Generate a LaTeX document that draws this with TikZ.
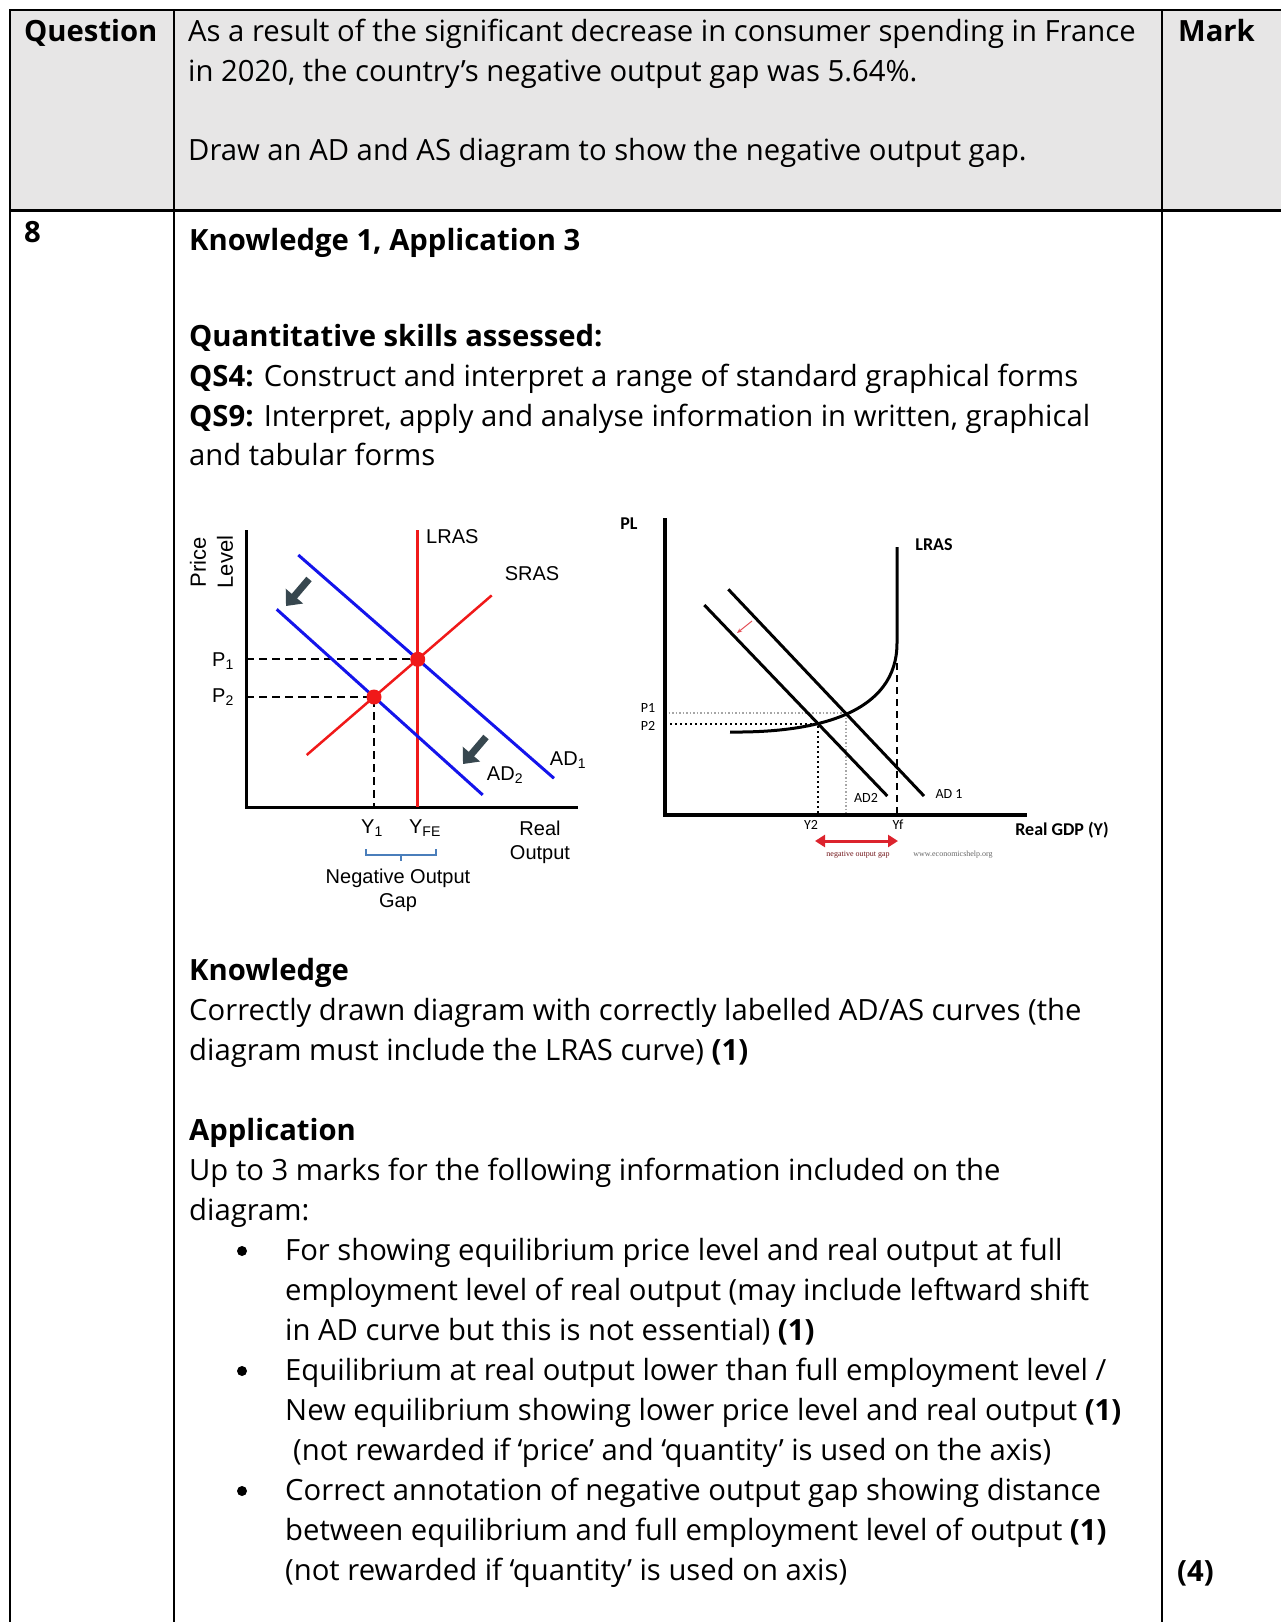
\documentclass[tikz,border=0pt]{standalone}
\usepackage{fontspec}
\setmainfont{Open Sans}
\newfontfamily\arialfont{Liberation Sans}
\newfontfamily\calfont{Carlito}
\newfontfamily\webfont{Liberation Serif}
\usepackage{xcolor}
\usepackage{tikz}
\usetikzlibrary{arrows.meta}
\definecolor{hdrgrey}{RGB}{231,230,230}
\definecolor{adblue}{RGB}{20,20,235}
\definecolor{asred}{RGB}{240,25,25}
\definecolor{shiftgrey}{RGB}{55,71,79}
\definecolor{bracecol}{RGB}{74,126,187}
\definecolor{gapred}{RGB}{220,35,45}
\tikzset{
	txt/.style={anchor=base west,inner sep=0pt,font=\fontsize{29.25}{40}\selectfont},
	hd/.style={txt,font=\fontsize{29.25}{40}\selectfont\bfseries},
	lab/.style={inner sep=0pt,font=\arialfont\fontsize{20}{24}\selectfont},
	rlab/.style={inner sep=0pt,font=\calfont\fontsize{14}{17}\selectfont},
	rlabb/.style={inner sep=0pt,font=\calfont\fontsize{18}{21}\selectfont\bfseries},
	eqdash/.style={black,line width=2pt,dash pattern=on 8pt off 5pt},
	shiftarr/.style={shiftgrey,line width=7pt,-{Triangle[length=13pt,width=22pt]}},
}

\begin{document}
\begin{tikzpicture}[x=1pt,y=1pt]
	\useasboundingbox (0,0) rectangle (1281,-1622);
	\fill [hdrgrey] (10,-10) rectangle (1281,-210);
	\draw [line width=2.5pt] (9,-10) -- (1281,-10);
	\draw [line width=3pt] (9,-210) -- (1281,-210);
	\draw [line width=2pt] (10,-9) -- (10,-1622);
	\draw [line width=2pt] (174,-9) -- (174,-1622);
	\draw [line width=2pt] (1162,-9) -- (1162,-1622);

	\node [hd] (qhead) at (24,-41) {Question};
	\node [txt] (q1) at (188,-41) {As a result of the significant decrease in consumer spending in France};
	\node [txt] (q2) at (188,-81) {in 2020, the country’s negative output gap was 5.64\%.};
	\node [txt] (q3) at (188,-160) {Draw an AD and AS diagram to show the negative output gap.};
	\node [hd] (mhead) at (1178,-41) {Mark};

	\node [hd] (qnum) at (24,-242) {8};
	\node [hd] (kahead) at (189,-250) {Knowledge 1, Application 3};
	\node [hd] (qshead) at (189,-346) {Quantitative skills assessed:};
	\node [txt] (qs4) at (189,-386) {\textbf{QS4:} Construct and interpret a range of standard graphical forms};
	\node [txt] (qs9) at (189,-426) {\textbf{QS9:} Interpret, apply and analyse information in written, graphical};
	\node [txt] (qs9b) at (189,-465) {and tabular forms};

	% left diagram
	\coordinate (lo) at (246,-807);
	\coordinate (ltop) at (246,-530);
	\coordinate (lend) at (578,-807);
	\coordinate (e1) at (417.7,-659.3);
	\coordinate (e2) at (374,-697);
	\draw [line width=3pt] (ltop) -- (lo) -- (lend);
	\draw [eqdash] (246,-659.3) -- (e1);
	\draw [eqdash] (246,-697) -- (e2) -- (374,-807);
	\draw [asred,line width=2.5pt] (417.7,-530) -- (417.7,-807);
	\draw [asred,line width=2.5pt] (306.7,-755) -- (491.7,-595.4);
	\draw [adblue,line width=3pt] (298.3,-555) -- (554,-778.3);
	\draw [adblue,line width=3pt] (276.7,-609.3) -- (482.7,-794.9);
	\fill [asred] (e1) circle (7.5);
	\fill [asred] (e2) circle (7.5);
	\draw [shiftarr] (309,-579) -- (286,-606);
	\draw [shiftarr] (486,-737) -- (463,-764);
	\draw [bracecol,line width=2pt] (366,-849) -- (366,-855) -- (436,-855) -- (436,-849);
	\draw [bracecol,line width=2pt] (401,-855) -- (401,-861);
	\node [lab,font=\arialfont\fontsize{22}{26}\selectfont,rotate=90] (price) at (198,-562) {Price};
	\node [lab,font=\arialfont\fontsize{22}{26}\selectfont,rotate=90] (level) at (225,-562) {Level};
	\node [lab] (p1) at (223,-661) {P\textsubscript{1}};
	\node [lab] (p2) at (223,-697) {P\textsubscript{2}};
	\node [lab,anchor=west] (lras) at (426,-537) {LRAS};
	\node [lab] (sras) at (532,-574) {SRAS};
	\node [lab] (ad1) at (568,-760) {AD\textsubscript{1}};
	\node [lab] (ad2) at (505,-775) {AD\textsubscript{2}};
	\node [lab] (y1) at (372,-828) {Y\textsubscript{1}};
	\node [lab] (yfe) at (425,-828) {Y\textsubscript{FE}};
	\node [lab] (real) at (540,-828) {Real};
	\node [lab] (output) at (540,-855) {Output};
	\node [lab] (neg) at (398,-878) {Negative Output};
	\node [lab] (gap) at (398,-903) {Gap};

	% right diagram
	\coordinate (ro) at (665,-815);
	\coordinate (rtop) at (665,-518);
	\coordinate (rend) at (1027,-815);
	\coordinate (as0) at (730,-732);
	\coordinate (as1) at (897,-643);
	\coordinate (as2) at (897,-547);
	\coordinate (f1) at (846,-713);
	\coordinate (f2) at (818,-724);
	\draw [black!35,line width=1.5pt,dash pattern=on 1.5pt off 2pt] (665,-713) -- (f1) -- (846,-815);
	\draw [black,line width=2pt,dash pattern=on 2pt off 3pt] (665,-724) -- (f2) -- (818,-815);
	\draw [black,line width=2.5pt,dash pattern=on 7pt off 5pt] (897,-663) -- (897,-815);
	\draw [line width=4.5pt] (rtop) -- (ro) -- (rend);
	\draw [line width=3pt] (as0) .. controls (820,-733) and (897,-712) .. (as1) -- (as2);
	\draw [line width=3pt] (728.3,-589.3) -- (924,-796);
	\draw [line width=3pt] (704.3,-605) -- (887.3,-796);
	\draw [gapred!80,line width=1pt,-{Stealth[length=5pt,width=4pt]}] (752,-621) -- (737,-633);
	\draw [gapred,line width=3pt,{Triangle[length=10pt,width=12pt]}-{Triangle[length=10pt,width=12pt]}] (815,-841) -- (898,-841);
	\node [rlabb] (pl) at (629,-524) {PL};
	\node [rlabb] (rlras) at (934,-545) {LRAS};
	\node [rlab] (rp1) at (648,-708) {P1};
	\node [rlab] (rp2) at (648,-726) {P2};
	\node [rlab] (rad1) at (949,-794) {AD 1};
	\node [rlab] (rad2) at (866,-798) {AD2};
	\node [rlab] (ry2) at (811,-825) {Y2};
	\node [rlab] (ryf) at (898,-825) {Yf};
	\node [rlabb] (rgdp) at (1062,-830) {Real GDP (Y)};
	\node [inner sep=0pt,font=\webfont\fontsize{8}{9}\selectfont,gapred!50!black] (rneg) at (858,-855) {negative output gap};
	\node [inner sep=0pt,font=\webfont\fontsize{8}{9}\selectfont,black!60] (rweb) at (953,-855) {www.economicshelp.org};

	\node [hd] (khead) at (189,-980) {Knowledge};
	\node [txt] (k1) at (189,-1020) {Correctly drawn diagram with correctly labelled AD/AS curves (the};
	\node [txt] (k2) at (189,-1060) {diagram must include the LRAS curve) \textbf{(1)}};
	\node [hd] (ahead) at (189,-1140) {Application};
	\node [txt] (a1) at (189,-1180) {Up to 3 marks for the following information included on the};
	\node [txt] (a2) at (189,-1220) {diagram:};
	\fill (242,-1251) circle (5);
	\node [txt] (b1a) at (285,-1260) {For showing equilibrium price level and real output at full};
	\node [txt] (b1b) at (285,-1300) {employment level of real output (may include leftward shift};
	\node [txt] (b1c) at (285,-1340) {in AD curve but this is not essential) \textbf{(1)}};
	\fill (242,-1371) circle (5);
	\node [txt] (b2a) at (285,-1380) {Equilibrium at real output lower than full employment level /};
	\node [txt] (b2b) at (285,-1420) {New equilibrium showing lower price level and real output \textbf{(1)}};
	\node [txt] (b2c) at (293,-1460) {(not rewarded if ‘price’ and ‘quantity’ is used on the axis)};
	\fill (242,-1491) circle (5);
	\node [txt] (b3a) at (285,-1500) {Correct annotation of negative output gap showing distance};
	\node [txt] (b3b) at (285,-1540) {between equilibrium and full employment level of output \textbf{(1)}};
	\node [txt] (b3c) at (285,-1580) {(not rewarded if ‘quantity’ is used on axis)};
	\node [hd] (mark) at (1177,-1581) {(4)};
\end{tikzpicture}
\end{document}
